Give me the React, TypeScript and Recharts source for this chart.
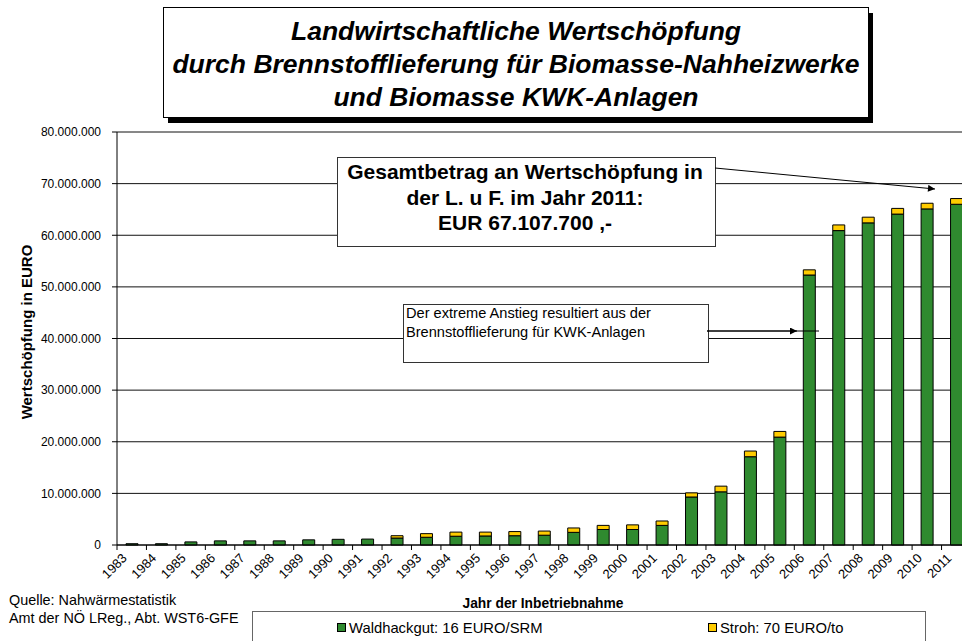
import React from 'react';
import { BarChart, Bar, XAxis, YAxis, CartesianGrid } from 'recharts';

const years = ['1983','1984','1985','1986','1987','1988','1989','1990','1991','1992','1993','1994','1995','1996','1997','1998','1999','2000','2001','2002','2003','2004','2005','2006','2007','2008','2009','2010','2011'];
const waldhackgut = [250000,250000,600000,800000,800000,800000,1000000,1100000,1150000,1350000,1500000,1700000,1750000,1800000,1900000,2450000,3000000,3000000,3800000,9300000,10300000,17100000,20900000,52300000,60900000,62400000,64100000,65100000,66000000];
const stroh = [0,0,0,0,0,0,0,0,0,450000,700000,800000,750000,800000,800000,850000,800000,900000,850000,800000,1100000,1100000,1100000,1000000,1100000,1100000,1100000,1100000,1107700];
const yTicks = [0,10000000,20000000,30000000,40000000,50000000,60000000,70000000,80000000];

const titleLines = ['Landwirtschaftliche Wertschöpfung','durch Brennstofflieferung für Biomasse-Nahheizwerke','und Biomasse KWK-Anlagen'];
const note1Lines = ['Gesamtbetrag an Wertschöpfung  in','der L. u F. im Jahr 2011:','EUR 67.107.700 ,-'];
const note2Lines = ['Der extreme Anstieg resultiert aus der','Brennstofflieferung für KWK-Anlagen'];
const sourceLines = ['Quelle: Nahwärmestatistik','Amt der NÖ LReg., Abt. WST6-GFE'];
const seriesNames = ['Waldhackgut: 16 EURO/SRM','Stroh: 70 EURO/to'];
const yLabel = 'Wertschöpfung in EURO';
const xLabel = 'Jahr der Inbetriebnahme';

const data = years.map((y, i) => ({ year: y, wald: waldhackgut[i], stroh: stroh[i] }));

const FONT = "'Liberation Sans', Arial, Helvetica, sans-serif";
const GREEN = '#2F8A2F';
const YELLOW = '#FFCC00';

const CHART_W = 980;
const CHART_H = 641;
const M = { top: 132, right: 9, left: 0, bottom: 0 };
const Y_W = 117;
const X_H = 96;
const HALF_BAND = (CHART_W - M.right - M.left - Y_W) / years.length / 2;

const fmt = (v: number) => String(v).replace(/\B(?=(\d{3})+(?!\d))/g, '.');

const XTick = (props: any) => {
  const { x, y, payload } = props;
  return (
    <g>
      <line x1={x - HALF_BAND} x2={x - HALF_BAND} y1={y - 5} y2={y} stroke="#000" strokeWidth={1} />
      <text x={x - 4} y={y + 9} textAnchor="end" transform={`rotate(-45 ${x - 4} ${y + 9})`} fontSize={13} fontFamily={FONT} fill="#000">
        {payload.value}
      </text>
    </g>
  );
};

export default function App() {
  return (
    <div style={{ position: 'fixed', left: 0, top: 0, width: 962, height: 641, overflow: 'hidden', background: '#fff' }}>
      <div style={{ position: 'absolute', left: 0, top: 0 }}>
        <BarChart width={CHART_W} height={CHART_H} data={data} margin={M} barSize={12}>
          <CartesianGrid horizontal vertical={false} stroke="#111" strokeWidth={1} />
          <XAxis dataKey="year" interval={0} height={X_H} tickSize={5} tickMargin={0} tickLine={false} axisLine={{ stroke: '#000' }} tick={<XTick />} />
          <YAxis type="number" domain={[0, 80000000]} ticks={yTicks} width={Y_W} tickSize={5} tickMargin={11} tickFormatter={fmt}
            axisLine={{ stroke: '#000' }} tickLine={{ stroke: '#000' }} tick={{ fontSize: 12, fontFamily: FONT, fill: '#000' }} interval={0} />
          <Bar dataKey="wald" stackId="a" fill={GREEN} stroke="#000" strokeWidth={1} isAnimationActive={false} />
          <Bar dataKey="stroh" stackId="a" fill={YELLOW} stroke="#000" strokeWidth={1} isAnimationActive={false} />
        </BarChart>
      </div>
      <svg width={962} height={641} style={{ position: 'absolute', left: 0, top: 0, pointerEvents: 'none' }} fontFamily={FONT}>
        <defs>
          <marker id="ah" viewBox="0 0 10 10" refX="10" refY="5" markerWidth="9" markerHeight="7" markerUnits="userSpaceOnUse" orient="auto">
            <path d="M0,0 L10,5 L0,10 z" fill="#000" />
          </marker>
        </defs>
        {/* Title box */}
        <rect x={168} y={13} width={705} height={110} fill="#000" />
        <rect x={163.5} y={7.5} width={705} height={110} fill="#fff" stroke="#000" strokeWidth={1} />
        {titleLines.map((t, i) => (
          <text key={i} x={516} y={40 + i * 33} textAnchor="middle" fontSize={26.5} fontWeight="bold" fontStyle="italic" fill="#000">{t}</text>
        ))}
        {/* Annotation 1 */}
        <rect x={337.5} y={157.5} width={378} height={89} fill="#fff" stroke="#333" strokeWidth={1} />
        {note1Lines.map((t, i) => (
          <text key={i} x={525} y={179 + i * 25.5} textAnchor="middle" fontSize={21} fontWeight="bold" fill="#000">{t}</text>
        ))}
        <line x1={715} y1={168} x2={935} y2={189} stroke="#000" strokeWidth={1} markerEnd="url(#ah)" />
        {/* Annotation 2 */}
        <rect x={403.5} y={304.5} width={305} height={58} fill="#fff" stroke="#333" strokeWidth={1} />
        {note2Lines.map((t, i) => (
          <text key={i} x={406} y={318 + i * 18.5} fontSize={14.6} fill="#000">{t}</text>
        ))}
        <line x1={707} y1={331} x2={819} y2={331} stroke="#000" strokeWidth={1} />
        <line x1={707} y1={331} x2={797} y2={331} stroke="#000" strokeWidth={1} markerEnd="url(#ah)" />
        {/* Axis titles */}
        <text x={0} y={0} transform="translate(32 332) rotate(-90)" textAnchor="middle" fontSize={15} fontWeight="bold" fill="#000">{yLabel}</text>
        <text x={543} y={608} textAnchor="middle" fontSize={13.8} fontWeight="bold" fill="#000">{xLabel}</text>
        {/* Source */}
        {sourceLines.map((t, i) => (
          <text key={i} x={9} y={605 + i * 18} fontSize={14.4} fill="#000">{t}</text>
        ))}
        {/* Legend */}
        <rect x={252.5} y={611.5} width={673} height={60} fill="#fff" stroke="#666" strokeWidth={1} />
        <rect x={337.5} y={623.5} width={8} height={8} fill={GREEN} stroke="#000" strokeWidth={1} />
        <text x={349} y={633} fontSize={14.8} fill="#000">{seriesNames[0]}</text>
        <rect x={708.5} y={623.5} width={8} height={8} fill={YELLOW} stroke="#000" strokeWidth={1} />
        <text x={720} y={633} fontSize={14.8} fill="#000">{seriesNames[1]}</text>
      </svg>
    </div>
  );
}
